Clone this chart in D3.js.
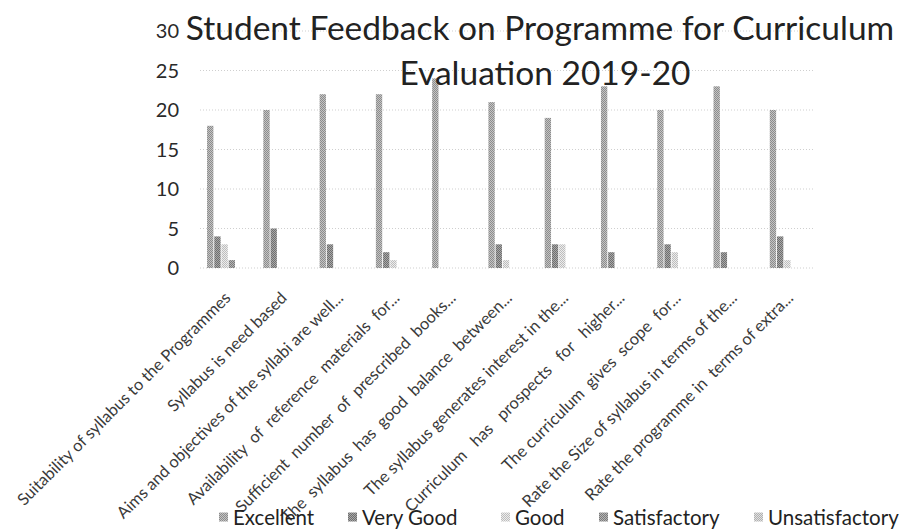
<!DOCTYPE html>
<html lang="en">
<head>
<meta charset="UTF-8">
<title>Student Feedback on Programme for Curriculum Evaluation 2019-20</title>
<script src="https://d3js.org/d3.v7.min.js"></script>
<style>
  html, body { margin: 0; padding: 0; background: #fff; }
  body { font-family: "Lato", "Open Sans", sans-serif; }
</style>
</head>
<body>
<div id="my_dataviz"></div>
<script>

// categories (x axis labels, already cut short like in the original)
var categories = [
  "Suitability of syllabus to the Programmes",
  "Syllabus is need based",
  "Aims and objectives of the syllabi are well...",
  "Availability  of  reference  materials  for...",
  "Sufficient  number  of  prescribed  books...",
  "The  syllabus  has  good  balance  between...",
  "The syllabus generates interest in the...",
  "Curriculum   has   prospects   for   higher...",
  "The curriculum  gives  scope  for...",
  "Rate the Size of syllabus in terms of the...",
  "Rate the programme in  terms of extra..."
];

// series values (number of students)
var excellent      = [18, 20, 22, 22, 24, 21, 19, 23, 20, 23, 20];
var veryGood       = [4, 5, 3, 2, 0, 3, 3, 2, 3, 2, 4];
var good           = [3, 0, 0, 1, 0, 1, 3, 0, 2, 0, 1];
var satisfactory   = [1, 0, 0, 0, 0, 0, 0, 0, 0, 0, 0];
var unsatisfactory = [0, 0, 0, 0, 0, 0, 0, 0, 0, 0, 0];

var seriesNames = ["Excellent", "Very Good", "Good", "Satisfactory", "Unsatisfactory"];
var yTicks = [0, 5, 10, 15, 20, 25, 30];

var allSeries = [excellent, veryGood, good, satisfactory, unsatisfactory];

// grey "scanned" looks: dark / light pair for each series
var shades = [
  ["#8c8c8c", "#c4c4c4"],
  ["#6e6e6e", "#a8a8a8"],
  ["#bdbdbd", "#ececec"],
  ["#7a7a7a", "#b4b4b4"],
  ["#b0b0b0", "#e0e0e0"]
];

var width = 907, height = 531;

var svg = d3.select("#my_dataviz")
  .append("svg")
    .attr("width", width)
    .attr("height", height);

// checker patterns to mimic the halftone of the scan
var defs = svg.append("defs");
seriesNames.forEach(function(name, i) {
  var p = defs.append("pattern")
    .attr("id", "pat" + i)
    .attr("width", 2)
    .attr("height", 2)
    .attr("patternUnits", "userSpaceOnUse");
  p.append("rect").attr("width", 2).attr("height", 2).attr("fill", shades[i][1]);
  p.append("rect").attr("width", 1).attr("height", 1).attr("fill", shades[i][0]);
  p.append("rect").attr("x", 1).attr("y", 1).attr("width", 1).attr("height", 1).attr("fill", shades[i][0]);
});

// scales
var x = d3.scaleBand()
  .domain(categories)
  .range([196.5, 815.5])
  .paddingInner(0.375)
  .paddingOuter(0.1875);

var xInner = d3.scaleBand()
  .domain(seriesNames)
  .range([0, x.bandwidth()])
  .paddingInner(0.12);

var y = d3.scaleLinear()
  .domain([0, 30])
  .range([268, 31]);

// gridlines
svg.append("g")
  .selectAll("line")
  .data(yTicks)
  .enter()
  .append("line")
    .attr("x1", 200)
    .attr("x2", 813)
    .attr("y1", function(d) { return y(d); })
    .attr("y2", function(d) { return y(d); })
    .attr("stroke", "#cfcfcf")
    .attr("stroke-width", 1)
    .attr("stroke-dasharray", "1,2");

// y axis labels
svg.append("g")
  .selectAll("text")
  .data(yTicks)
  .enter()
  .append("text")
    .attr("x", 179)
    .attr("y", function(d) { return y(d); })
    .attr("dy", "0.36em")
    .style("text-anchor", "end")
    .style("font-size", "20px")
    .style("fill", "#2a2a2a")
    .text(function(d) { return d; });

// bars
var rows = [];
categories.forEach(function(c, ci) {
  allSeries.forEach(function(s, si) {
    rows.push({cat: c, series: seriesNames[si], idx: si, value: s[ci]});
  });
});

svg.append("g")
  .selectAll("rect")
  .data(rows.filter(function(d) { return d.value > 0; }))
  .enter()
  .append("rect")
    .attr("x", function(d) { return x(d.cat) + xInner(d.series); })
    .attr("y", function(d) { return y(d.value); })
    .attr("width", xInner.bandwidth())
    .attr("height", function(d) { return y(0) - y(d.value); })
    .attr("fill", function(d) { return "url(#pat" + d.idx + ")"; });

// x axis labels, rotated
svg.append("g")
  .selectAll("text")
  .data(categories)
  .enter()
  .append("text")
    .attr("transform", function(d) {
      return "translate(" + (x(d) + x.bandwidth() / 2 + 7) + ",299) rotate(-45)";
    })
    .style("text-anchor", "end")
    .style("white-space", "pre")
    .style("font-size", "16.5px")
    .style("fill", "#3a3a3a")
    .text(function(d) { return d; });

// title
var title = svg.append("text")
  .attr("x", 540)
  .attr("y", 40)
  .style("text-anchor", "middle")
  .style("font-size", "33.5px")
  .style("fill", "#222");
title.append("tspan")
  .attr("x", 540)
  .text("Student Feedback on Programme for Curriculum");
title.append("tspan")
  .attr("x", 545)
  .attr("dy", 45)
  .text("Evaluation 2019-20");

// legend
var legendX = [219, 348, 501, 599, 754];
var legend = svg.append("g")
  .selectAll("g")
  .data(seriesNames)
  .enter()
  .append("g")
    .attr("transform", function(d, i) { return "translate(" + legendX[i] + ",525)"; });

legend.append("rect")
  .attr("x", 0)
  .attr("y", -12.5)
  .attr("width", 9)
  .attr("height", 9)
  .attr("fill", function(d, i) { return "url(#pat" + i + ")"; });

legend.append("text")
  .attr("x", 14)
  .attr("y", 0)
  .style("font-size", "20.5px")
  .style("fill", "#222")
  .text(function(d) { return d; });

</script>
</body>
</html>
